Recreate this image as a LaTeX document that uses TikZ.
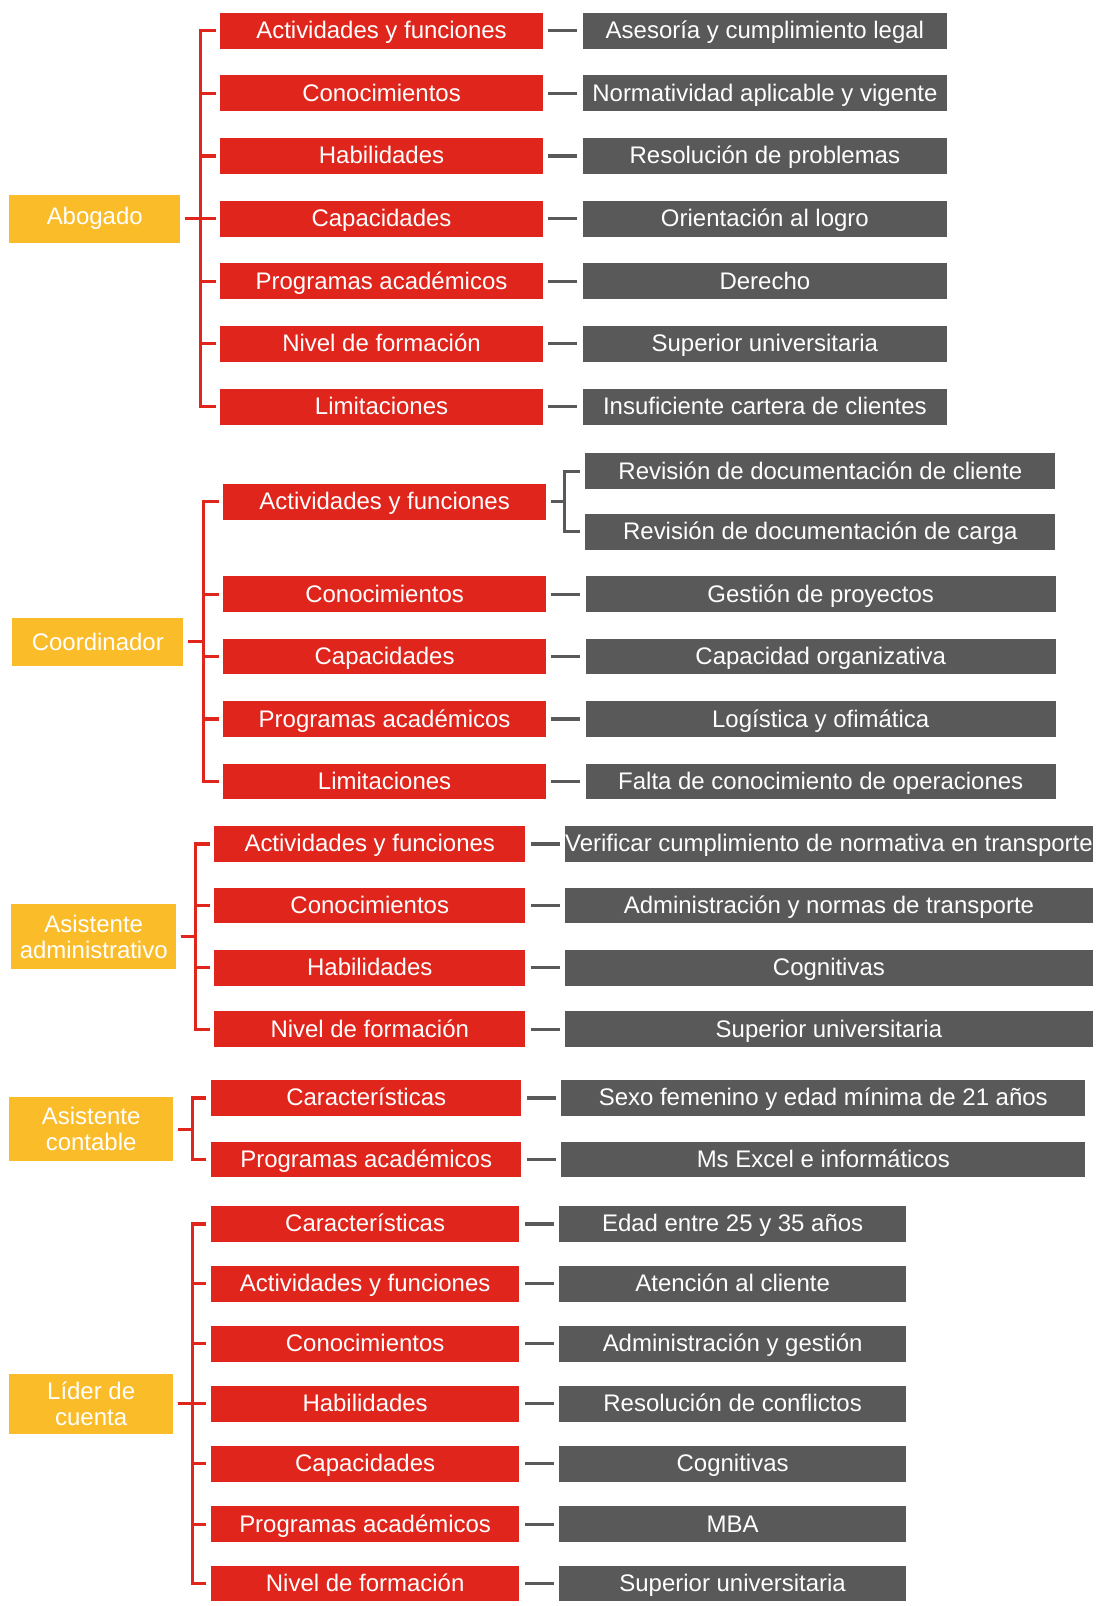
\documentclass[tikz,border=0pt]{standalone}
\usepackage{fontspec}
\setmainfont{Liberation Sans}
\definecolor{rolegold}{HTML}{FBBC2A}
\definecolor{attrred}{HTML}{E0251C}
\definecolor{itemgray}{HTML}{595959}
\usepackage{tikz}
\usetikzlibrary{positioning}

\begin{document}
\begin{tikzpicture}[
  x=0.5pt, y=-0.5pt,
  role/.style={fill=rolegold, text=white, align=center, inner sep=0pt,
               font=\fontsize{11.7}{12.5}\selectfont},
  attr/.style={fill=attrred, text=white, minimum height=17.5pt, inner sep=0pt,
               text height=9.2pt, text depth=1.4pt, font=\fontsize{11.7}{12.5}\selectfont},
  item/.style={fill=itemgray, text=white, minimum height=17.5pt, inner sep=0pt,
               text height=9.2pt, text depth=1.4pt, font=\fontsize{11.7}{12.5}\selectfont},
  tree/.style={draw=attrred, line width=1.5pt, shorten <=2pt, shorten >=2pt},
  link/.style={draw=itemgray, line width=1.5pt, shorten <=2.5pt, shorten >=2.5pt}
]
\useasboundingbox (0,0) rectangle (1070,1568);

\node[role, minimum width=83.5pt, minimum height=23.5pt] (ab) at (92.5,213.5) {Abogado};
\node[attr, minimum width=157.5pt] (ab1) at (372.5,30) {Actividades y funciones};
\node[attr, minimum width=157.5pt] (ab2) at (372.5,91.2) {Conocimientos};
\node[attr, minimum width=157.5pt] (ab3) at (372.5,152.3) {Habilidades};
\node[attr, minimum width=157.5pt] (ab4) at (372.5,213.5) {Capacidades};
\node[attr, minimum width=157.5pt] (ab5) at (372.5,274.7) {Programas académicos};
\node[attr, minimum width=157.5pt] (ab6) at (372.5,335.8) {Nivel de formación};
\node[attr, minimum width=157.5pt] (ab7) at (372.5,397) {Limitaciones};
\node[item, minimum width=178pt, right=19pt of ab1] (abv1) {Asesoría y cumplimiento legal};
\node[item, minimum width=178pt, right=19pt of ab2] (abv2) {Normatividad aplicable y vigente};
\node[item, minimum width=178pt, right=19pt of ab3] (abv3) {Resolución de problemas};
\node[item, minimum width=178pt, right=19pt of ab4] (abv4) {Orientación al logro};
\node[item, minimum width=178pt, right=19pt of ab5] (abv5) {Derecho};
\node[item, minimum width=178pt, right=19pt of ab6] (abv6) {Superior universitaria};
\node[item, minimum width=178pt, right=19pt of ab7] (abv7) {Insuficiente cartera de clientes};

\node[role, minimum width=83.5pt, minimum height=23.5pt] (co) at (95.5,626.5) {Coordinador};
\node[attr, minimum width=157.5pt] (co1) at (375.5,490) {Actividades y funciones};
\node[attr, minimum width=157.5pt] (co2) at (375.5,580) {Conocimientos};
\node[attr, minimum width=157.5pt] (co3) at (375.5,641) {Capacidades};
\node[attr, minimum width=157.5pt] (co4) at (375.5,702) {Programas académicos};
\node[attr, minimum width=157.5pt] (co5) at (375.5,763) {Limitaciones};
\node[item, minimum width=229.5pt, anchor=west] (co1a) at (571,460) {Revisión de documentación de cliente};
\node[item, minimum width=229.5pt, anchor=west] (co1b) at (571,519) {Revisión de documentación de carga};
\node[item, minimum width=229.5pt, right=19pt of co2] (cov2) {Gestión de proyectos};
\node[item, minimum width=229.5pt, right=19pt of co3] (cov3) {Capacidad organizativa};
\node[item, minimum width=229.5pt, right=19pt of co4] (cov4) {Logística y ofimática};
\node[item, minimum width=229.5pt, right=19pt of co5] (cov5) {Falta de conocimiento de operaciones};

\node[role, minimum width=80.5pt, minimum height=31.5pt] (aa) at (91.5,914.5) {Asistente\\administrativo};
\node[attr, minimum width=152pt] (aa1) at (361,824) {Actividades y funciones};
\node[attr, minimum width=152pt] (aa2) at (361,884) {Conocimientos};
\node[attr, minimum width=152pt] (aa3) at (361,945) {Habilidades};
\node[attr, minimum width=152pt] (aa4) at (361,1005) {Nivel de formación};
\node[item, minimum width=257.5pt, right=19pt of aa1] (aav1) {Verificar cumplimiento de normativa en transporte};
\node[item, minimum width=257.5pt, right=19pt of aa2] (aav2) {Administración y normas de transporte};
\node[item, minimum width=257.5pt, right=19pt of aa3] (aav3) {Cognitivas};
\node[item, minimum width=257.5pt, right=19pt of aa4] (aav4) {Superior universitaria};

\node[role, minimum width=80pt, minimum height=31.5pt] (ac) at (89,1102.5) {Asistente\\contable};
\node[attr, minimum width=151.5pt] (ac1) at (357.5,1072) {Características};
\node[attr, minimum width=151.5pt] (ac2) at (357.5,1132) {Programas académicos};
\node[item, minimum width=256pt, right=19pt of ac1] (acv1) {Sexo femenino y edad mínima de 21 años};
\node[item, minimum width=256pt, right=19pt of ac2] (acv2) {Ms Excel e informáticos};

\node[role, minimum width=80pt, minimum height=29.5pt] (lc) at (89,1370.5) {Líder de\\cuenta};
\node[attr, minimum width=150.5pt] (lc1) at (356.5,1195) {Características};
\node[attr, minimum width=150.5pt] (lc2) at (356.5,1253.5) {Actividades y funciones};
\node[attr, minimum width=150.5pt] (lc3) at (356.5,1312) {Conocimientos};
\node[attr, minimum width=150.5pt] (lc4) at (356.5,1370.5) {Habilidades};
\node[attr, minimum width=150.5pt] (lc5) at (356.5,1429) {Capacidades};
\node[attr, minimum width=150.5pt] (lc6) at (356.5,1488) {Programas académicos};
\node[attr, minimum width=150.5pt] (lc7) at (356.5,1546) {Nivel de formación};
\node[item, minimum width=169.5pt, right=19pt of lc1] (lcv1) {Edad entre 25 y 35 años};
\node[item, minimum width=169.5pt, right=19pt of lc2] (lcv2) {Atención al cliente};
\node[item, minimum width=169.5pt, right=19pt of lc3] (lcv3) {Administración y gestión};
\node[item, minimum width=169.5pt, right=19pt of lc4] (lcv4) {Resolución de conflictos};
\node[item, minimum width=169.5pt, right=19pt of lc5] (lcv5) {Cognitivas};
\node[item, minimum width=169.5pt, right=19pt of lc6] (lcv6) {MBA};
\node[item, minimum width=169.5pt, right=19pt of lc7] (lcv7) {Superior universitaria};

\draw[tree] (ab.east) -- ++(19.5,0) |- (ab1.west);
\draw[tree] (ab.east) -- ++(19.5,0) |- (ab2.west);
\draw[tree] (ab.east) -- ++(19.5,0) |- (ab3.west);
\draw[tree] (ab.east) -- (ab4.west);
\draw[tree] (ab.east) -- ++(19.5,0) |- (ab5.west);
\draw[tree] (ab.east) -- ++(19.5,0) |- (ab6.west);
\draw[tree] (ab.east) -- ++(19.5,0) |- (ab7.west);
\draw[link] (ab1) -- (abv1);
\draw[link] (ab2) -- (abv2);
\draw[link] (ab3) -- (abv3);
\draw[link] (ab4) -- (abv4);
\draw[link] (ab5) -- (abv5);
\draw[link] (ab6) -- (abv6);
\draw[link] (ab7) -- (abv7);

\draw[tree] (co.east) -- ++(19.5,0) |- (co1.west);
\draw[tree] (co.east) -- ++(19.5,0) |- (co2.west);
\draw[tree] (co.east) -- ++(19.5,0) |- (co3.west);
\draw[tree] (co.east) -- ++(19.5,0) |- (co4.west);
\draw[tree] (co.east) -- ++(19.5,0) |- (co5.west);
\draw[link] (co1.east) -- ++(18,0) |- (co1a.west);
\draw[link] (co1.east) -- ++(18,0) |- (co1b.west);
\draw[link] (co2) -- (cov2);
\draw[link] (co3) -- (cov3);
\draw[link] (co4) -- (cov4);
\draw[link] (co5) -- (cov5);

\draw[tree] (aa.east) -- ++(18.5,0) |- (aa1.west);
\draw[tree] (aa.east) -- ++(18.5,0) |- (aa2.west);
\draw[tree] (aa.east) -- ++(18.5,0) |- (aa3.west);
\draw[tree] (aa.east) -- ++(18.5,0) |- (aa4.west);
\draw[link] (aa1) -- (aav1);
\draw[link] (aa2) -- (aav2);
\draw[link] (aa3) -- (aav3);
\draw[link] (aa4) -- (aav4);

\draw[tree] (ac.east) -- ++(18.5,0) |- (ac1.west);
\draw[tree] (ac.east) -- ++(18.5,0) |- (ac2.west);
\draw[link] (ac1) -- (acv1);
\draw[link] (ac2) -- (acv2);

\draw[tree] (lc.east) -- ++(18.5,0) |- (lc1.west);
\draw[tree] (lc.east) -- ++(18.5,0) |- (lc2.west);
\draw[tree] (lc.east) -- ++(18.5,0) |- (lc3.west);
\draw[tree] (lc.east) -- (lc4.west);
\draw[tree] (lc.east) -- ++(18.5,0) |- (lc5.west);
\draw[tree] (lc.east) -- ++(18.5,0) |- (lc6.west);
\draw[tree] (lc.east) -- ++(18.5,0) |- (lc7.west);
\draw[link] (lc1) -- (lcv1);
\draw[link] (lc2) -- (lcv2);
\draw[link] (lc3) -- (lcv3);
\draw[link] (lc4) -- (lcv4);
\draw[link] (lc5) -- (lcv5);
\draw[link] (lc6) -- (lcv6);
\draw[link] (lc7) -- (lcv7);
\end{tikzpicture}
\end{document}
